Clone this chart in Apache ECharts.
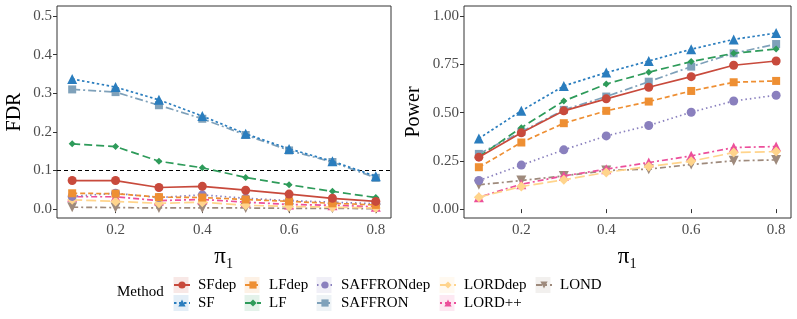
<!DOCTYPE html>
<html><head><meta charset="utf-8">
<script src="https://cdn.jsdelivr.net/npm/echarts@6/dist/echarts.min.js"></script>
<style>html,body{margin:0;padding:0;background:#fff}#c{width:797px;height:319px}</style>
</head><body><div id="c"></div>
<script>
const pi1 = [0.1,0.2,0.3,0.4,0.5,0.6,0.7,0.8];
const xTicks = [0.2,0.4,0.6,0.8];
const fdrTicks = [0,0.1,0.2,0.3,0.4,0.5];
const powerTicks = [0,0.25,0.5,0.75,1.0];
const fdrTarget = 0.1;

const methods = ['SFdep','SF','LFdep','LF','SAFFRONdep','SAFFRON','LORDdep','LORD++','LOND'];

// FDR values
const fdrSFdep      = [0.074,0.074,0.056,0.059,0.049,0.039,0.028,0.020];
const fdrSF         = [0.337,0.316,0.283,0.241,0.195,0.156,0.124,0.085];
const fdrLFdep      = [0.041,0.040,0.031,0.030,0.025,0.020,0.015,0.011];
const fdrLF         = [0.169,0.162,0.124,0.107,0.082,0.063,0.046,0.030];
const fdrSAFFRONdep = [0.033,0.041,0.030,0.037,0.028,0.022,0.018,0.014];
const fdrSAFFRON    = [0.310,0.303,0.269,0.234,0.192,0.152,0.122,0.081];
const fdrLORDdep    = [0.024,0.020,0.015,0.018,0.010,0.007,0.005,0.003];
const fdrLORDpp     = [0.032,0.032,0.022,0.025,0.018,0.012,0.010,0.006];
const fdrLOND       = [0.005,0.004,0.003,0.003,0.003,0.002,0.002,0.001];

// Power values
const pwSFdep      = [0.269,0.395,0.509,0.571,0.631,0.686,0.745,0.767];
const pwSF         = [0.366,0.509,0.638,0.707,0.767,0.828,0.879,0.912];
const pwLFdep      = [0.217,0.345,0.445,0.509,0.557,0.612,0.657,0.664];
const pwLF         = [0.272,0.422,0.560,0.648,0.709,0.764,0.807,0.829];
const pwSAFFRONdep = [0.148,0.228,0.307,0.379,0.433,0.502,0.560,0.590];
const pwSAFFRON    = [0.286,0.400,0.514,0.583,0.660,0.738,0.807,0.855];
const pwLORDdep    = [0.062,0.117,0.152,0.190,0.221,0.248,0.293,0.298];
const pwLORDpp     = [0.062,0.129,0.172,0.207,0.241,0.276,0.319,0.324];
const pwLOND       = [0.126,0.148,0.172,0.200,0.207,0.231,0.250,0.255];

const fdrData = [fdrSFdep,fdrSF,fdrLFdep,fdrLF,fdrSAFFRONdep,fdrSAFFRON,fdrLORDdep,fdrLORDpp,fdrLOND];
const pwData  = [pwSFdep,pwSF,pwLFdep,pwLF,pwSAFFRONdep,pwSAFFRON,pwLORDdep,pwLORDpp,pwLOND];

const styles = {
  'SFdep':      {color:'#C84A3C', symbol:'circle',   size:9,  dash:'solid'},
  'SF':         {color:'#2A7DBE', symbol:'triangle', size:10, dash:[2.5,2.5]},
  'LFdep':      {color:'#EE8F33', symbol:'rect',     size:8,  dash:[5,3]},
  'LF':         {color:'#2E9B5A', symbol:'diamond',  size:7,  dash:[8,4]},
  'SAFFRONdep': {color:'#8A80BE', symbol:'circle',   size:9,  dash:[1.5,3]},
  'SAFFRON':    {color:'#7FA1BA', symbol:'rect',     size:8,  dash:[8,3,2,3]},
  'LORDdep':    {color:'#FFD48C', symbol:'diamond',  size:10, dash:[10,4]},
  'LORD++':     {color:'#EC4F9B', symbol:'triangle', size:10, dash:[2,3,6,3]},
  'LOND':       {color:'#9E8A7C', symbol:'triangle', size:10, dash:[6,3,2,3], rotate:180}
};

const FONT = 'Liberation Serif';
const series = [];
[fdrData, pwData].forEach((arr, gi) => {
  methods.forEach((m, i) => {
    const s = styles[m];
    series.push({
      name: m, type: 'line', xAxisIndex: gi, yAxisIndex: gi,
      data: pi1.map((x, k) => [x, arr[i][k]]),
      symbol: s.symbol, symbolSize: s.size, symbolRotate: s.rotate || 0,
      lineStyle: {color: s.color, width: 1.7, type: s.dash},
      itemStyle: {color: s.color},
      z: 10 - i,
      animation: false,
      markLine: (gi === 0 && i === 0) ? {
        silent: true, symbol: 'none', label: {show: false},
        lineStyle: {color: '#000', type: [4,3], width: 1.2},
        data: [{yAxis: fdrTarget}]
      } : undefined
    });
  });
});

const axisCommon = {
  axisLine: {show: false},
  axisTick: {show: true, length: 4, lineStyle: {color: '#333', width: 1}},
  splitLine: {show: false},
  axisLabel: {color: '#4D4D4D', fontFamily: FONT, fontSize: 15, margin: 5}
};

const xAxis = [0,1].map(gi => Object.assign({}, axisCommon, {
  type: 'value', gridIndex: gi, min: 0.065, max: 0.835,
  axisTick: Object.assign({}, axisCommon.axisTick, {customValues: xTicks}),
  axisLabel: Object.assign({}, axisCommon.axisLabel, {customValues: xTicks, formatter: v => v.toFixed(1)}),
  name: 'π₁', nameLocation: 'middle', nameGap: 27,
  nameTextStyle: {fontFamily: FONT, fontSize: 23, color: '#000'}
}));

const yAxis = [
  Object.assign({}, axisCommon, {
    type: 'value', gridIndex: 0, min: -0.023, max: 0.526,
    axisTick: Object.assign({}, axisCommon.axisTick, {customValues: fdrTicks}),
    axisLabel: Object.assign({}, axisCommon.axisLabel, {customValues: fdrTicks, formatter: v => v.toFixed(1)}),
    name: 'FDR', nameLocation: 'middle', nameGap: 32,
    nameTextStyle: {fontFamily: FONT, fontSize: 20, color: '#000'}
  }),
  Object.assign({}, axisCommon, {
    type: 'value', gridIndex: 1, min: -0.046, max: 1.052,
    axisTick: Object.assign({}, axisCommon.axisTick, {customValues: powerTicks}),
    axisLabel: Object.assign({}, axisCommon.axisLabel, {customValues: powerTicks, formatter: v => v.toFixed(2)}),
    name: 'Power', nameLocation: 'middle', nameGap: 40,
    nameTextStyle: {fontFamily: FONT, fontSize: 20, color: '#000'}
  })
];

const legendCols = [['SFdep','SF'],['LFdep','LF'],['SAFFRONdep','SAFFRON'],['LORDdep','LORD++'],['LOND']];
const legendLeft = [173, 244, 316, 439, 535];
const legends = legendCols.map((names, ci) => ({
  orient: 'vertical', left: legendLeft[ci], top: 277, padding: 0, height: 40,
  data: names, itemWidth: 16, itemHeight: 9, itemGap: 2,
  selectedMode: false,
  textStyle: {fontFamily: FONT, fontSize: 15, color: '#000', lineHeight: 16, padding: [0,0,0,3]}
}));

const graphics = [{type: 'text', left: 117, top: 285, style: {text: 'Method', font: '15px "Liberation Serif"', fill: '#000'}}];
legendCols.forEach((names, ci) => names.forEach((n, ri) => {
  graphics.push({type: 'rect', left: legendLeft[ci] + 0.5, top: 277 + ri * 18, z: -1,
    shape: {width: 15, height: 16}, style: {fill: styles[n].color, opacity: 0.13}});
}));

const chart = echarts.init(document.getElementById('c'), null, {renderer: 'canvas'});
chart.setOption({
  animation: false,
  backgroundColor: '#fff',
  grid: [
    {left: 57, top: 6, width: 334, height: 212, show: true, borderColor: '#333', borderWidth: 1, backgroundColor: 'transparent'},
    {left: 464, top: 6, width: 327, height: 212, show: true, borderColor: '#333', borderWidth: 1, backgroundColor: 'transparent'}
  ],
  xAxis, yAxis,
  legend: legends,
  graphic: graphics,
  series
});
</script></body></html>
